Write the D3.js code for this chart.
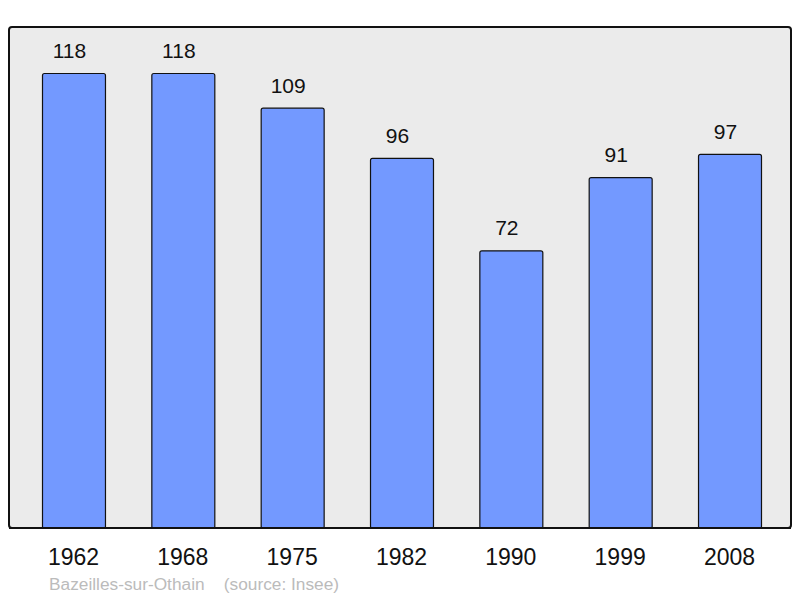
<!DOCTYPE html>
<html>
<head>
<meta charset="utf-8">
<script src="https://cdn.jsdelivr.net/npm/d3@7"></script>
<style>
  body { margin: 0; background: #fff; }
  svg { display: block; font-family: "Liberation Sans", Arial, sans-serif; }
</style>
</head>
<body>
<div id="chart"></div>
<script>
const years = ["1962", "1968", "1975", "1982", "1990", "1999", "2008"];
const population = [118, 118, 109, 96, 72, 91, 97];
const commune = "Bazeilles-sur-Othain";
const source = "(source: Insee)";

const width = 800, height = 598;
const panel = {x: 9, y: 27, w: 782, h: 501};

const svg = d3.select("#chart").append("svg")
  .attr("width", width)
  .attr("height", height);

// background panel
svg.append("rect")
  .attr("x", panel.x)
  .attr("y", panel.y)
  .attr("width", panel.w)
  .attr("height", panel.h)
  .attr("rx", 3)
  .attr("fill", "#ebebeb")
  .attr("stroke", "#111")
  .attr("stroke-width", 2);

const x = d3.scaleBand()
  .domain(years)
  .range([42, 761])
  .paddingInner(0.424)
  .paddingOuter(0);

const y = d3.scaleLinear()
  .domain([0, 118])
  .range([528, 73]);

const data = years.map((yr, i) => ({year: yr, value: population[i]}));

let bars = svg.append("g").attr("class", "bars");

bars.selectAll("rect")
  .data(data)
  .enter()
  .append("rect")
  .attr("x", d => x(d.year) + 0.5)
  .attr("y", d => y(d.value) + 0.5)
  .attr("width", x.bandwidth())
  .attr("height", d => y(0) - y(d.value))
  .attr("rx", 2)
  .attr("fill", "#7399ff")
  .attr("stroke", "#111")
  .attr("stroke-width", 1.2);

// redraw the bottom edge of panel over bars
svg.append("line")
  .attr("x1", panel.x)
  .attr("x2", panel.x + panel.w)
  .attr("y1", panel.y + panel.h)
  .attr("y2", panel.y + panel.h)
  .attr("stroke", "#111")
  .attr("stroke-width", 2);

bars.selectAll(".val")
  .data(data)
  .enter()
  .append("text")
  .attr("class", "val")
  .attr("x", d => x(d.year) + x.bandwidth() / 2 - 4)
  .attr("y", d => y(d.value) - 15)
  .attr("text-anchor", "middle")
  .attr("font-size", "21px")
  .attr("fill", "#111")
  .text(d => d.value);

svg.append("g").selectAll("text")
  .data(years)
  .enter()
  .append("text")
  .attr("x", d => x(d) + x.bandwidth() / 2)
  .attr("y", 565)
  .attr("text-anchor", "middle")
  .attr("font-size", "23px")
  .attr("fill", "#111")
  .text(d => d);

svg.append("text")
  .attr("x", 49)
  .attr("y", 590)
  .attr("font-size", "17.3px")
  .attr("fill", "#bbbbbb")
  .attr("xml:space", "preserve")
  .style("white-space", "pre")
  .text(commune + "    " + source);
</script>
</body>
</html>
